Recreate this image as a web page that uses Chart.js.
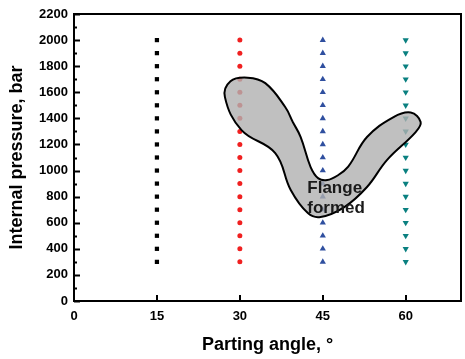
<!DOCTYPE html>
<html>
<head>
<meta charset="utf-8">
<script src="https://cdn.jsdelivr.net/npm/chart.js@4/dist/chart.umd.min.js"></script>
<style>
  html, body { margin: 0; padding: 0; background: #fff; }
  #wrap { width: 465px; height: 359px; }
</style>
</head>
<body>
<div id="wrap"><canvas id="chart"></canvas></div>
<script>
// parting angle of each series
const angles = [15, 30, 45, 60];
// internal pressures tested at each angle
const pressures15 = [300, 400, 500, 600, 700, 800, 900, 1000, 1100, 1200, 1300, 1400, 1500, 1600, 1700, 1800, 1900, 2000];
const pressures30 = [300, 400, 500, 600, 700, 800, 900, 1000, 1100, 1200, 1300, 1400, 1500, 1600, 1700, 1800, 1900, 2000];
const pressures45 = [300, 400, 500, 600, 700, 800, 900, 1000, 1100, 1200, 1300, 1400, 1500, 1600, 1700, 1800, 1900, 2000];
const pressures60 = [300, 400, 500, 600, 700, 800, 900, 1000, 1100, 1200, 1300, 1400, 1500, 1600, 1700, 1800, 1900, 2000];

// outline of the "flange formed" region (angle, pressure)
const regionAngle = [39.6, 41.0, 42.8, 44.2, 45.8, 47.6, 49.6, 53.0, 57.8, 60.9, 62.7, 61.8, 56.6, 53.0, 48.9, 44.6, 42.3, 39.2, 36.4, 30.3, 27.3, 28.3, 31.4, 34.6, 38.2, 39.6];
const regionPressure = [1370, 1257, 1027, 940, 927, 960, 1030, 1257, 1410, 1445, 1372, 1295, 1080, 874, 720, 644, 674, 851, 1134, 1310, 1563, 1685, 1712, 1670, 1487, 1370];
const regionLabel = ['Flange', 'formed'];
const labelAngle = 42.2;
const labelPressure = [825, 672];

const xTicks = [0, 15, 30, 45, 60];

function pts(x, ys) { return ys.map(y => ({ x: x, y: y })); }

const regionPts = regionAngle.map((a, i) => ({ x: a, y: regionPressure[i] }));

// box border + inward ticks
const framePlugin = {
    id: 'frame',
    afterDraw(chart) {
        const ctx = chart.ctx;
        const a = chart.chartArea;
        const xs = chart.scales.x, ys = chart.scales.y;
        ctx.save();
        ctx.strokeStyle = '#000';
        ctx.lineWidth = 2;
        ctx.beginPath();
        ctx.moveTo(a.left, a.top);
        ctx.lineTo(a.right, a.top);
        ctx.lineTo(a.right, a.bottom);
        ctx.stroke();
        ys.ticks.forEach(t => {
            const y = Math.round(ys.getPixelForValue(t.value)) + 0.5;
            ctx.beginPath();
            ctx.moveTo(a.left, y);
            ctx.lineTo(a.left + 6, y);
            ctx.stroke();
            const ym = Math.round(ys.getPixelForValue(t.value + 100)) + 0.5;
            if (t.value + 100 < ys.max) {
                ctx.beginPath();
                ctx.moveTo(a.left, ym);
                ctx.lineTo(a.left + 3, ym);
                ctx.stroke();
            }
        });
        xs.ticks.forEach(t => {
            const x = Math.round(xs.getPixelForValue(t.value));
            ctx.beginPath();
            ctx.moveTo(x, a.bottom);
            ctx.lineTo(x, a.bottom - 6);
            ctx.stroke();
        });
        ctx.restore();
    },
    afterDatasetsDraw(chart) {
        const ctx = chart.ctx;
        const xs = chart.scales.x, ys = chart.scales.y;
        ctx.save();
        ctx.fillStyle = '#1a1a1a';
        ctx.font = 'bold 17px "Liberation Sans", Arial, sans-serif';
        ctx.textBaseline = 'alphabetic';
        regionLabel.forEach((s, i) => {
            ctx.fillText(s, xs.getPixelForValue(labelAngle), ys.getPixelForValue(labelPressure[i]));
        });
        ctx.restore();
    }
};

const tickFont = { family: '"Liberation Sans", Arial, sans-serif', size: 13, weight: 'bold' };
const titleFont = { family: '"Liberation Sans", Arial, sans-serif', size: 18, weight: 'bold' };

new Chart(document.getElementById('chart'), {
    type: 'scatter',
    data: {
        datasets: [
            {
                type: 'line',
                label: 'Flange formed',
                data: regionPts,
                order: 0,
                borderColor: '#000',
                borderWidth: 2,
                backgroundColor: 'rgba(176,176,176,0.8)',
                fill: 'shape',
                tension: 0.4,
                pointRadius: 0,
                showLine: true
            },
            {
                label: '15',
                data: pts(angles[0], pressures15),
                order: 1,
                pointStyle: 'rect',
                pointRadius: 3,
                backgroundColor: '#000',
                borderWidth: 0
            },
            {
                label: '30',
                data: pts(angles[1], pressures30),
                order: 1,
                pointStyle: 'circle',
                pointRadius: 2.5,
                backgroundColor: '#f02020',
                borderWidth: 0
            },
            {
                label: '45',
                data: pts(angles[2], pressures45),
                order: 1,
                pointStyle: 'triangle',
                pointRadius: 3.6,
                backgroundColor: '#2f4f9f',
                borderWidth: 0
            },
            {
                label: '60',
                data: pts(angles[3], pressures60),
                order: 1,
                pointStyle: 'triangle',
                rotation: 180,
                pointRadius: 3.6,
                backgroundColor: '#0a8080',
                borderWidth: 0
            }
        ]
    },
    options: {
        responsive: true,
        maintainAspectRatio: false,
        animation: false,
        layout: { padding: { top: 14, right: 1, left: 0, bottom: 0 } },
        plugins: {
            legend: { display: false },
            tooltip: { enabled: false }
        },
        scales: {
            x: {
                type: 'linear',
                min: 0,
                max: 70,
                afterBuildTicks: s => { s.ticks = xTicks.map(v => ({ value: v })); },
                afterFit: s => { s.height = 58; },
                grid: { display: false, drawTicks: false },
                border: { display: true, color: '#000', width: 2 },
                ticks: { color: '#000', font: tickFont, padding: 8 },
                title: { display: true, text: 'Parting angle, °', color: '#000', font: titleFont, padding: { bottom: 3 } }
            },
            y: {
                min: 0,
                max: 2200,
                afterFit: s => { s.width = 74; },
                grid: { display: false, drawTicks: false },
                border: { display: true, color: '#000', width: 2 },
                ticks: { stepSize: 200, color: '#000', font: tickFont, padding: 6, callback: v => String(v) },
                title: { display: true, text: 'Internal pressure, bar', color: '#000', font: titleFont, padding: { top: 6 } }
            }
        }
    },
    plugins: [framePlugin]
});
</script>
</body>
</html>
